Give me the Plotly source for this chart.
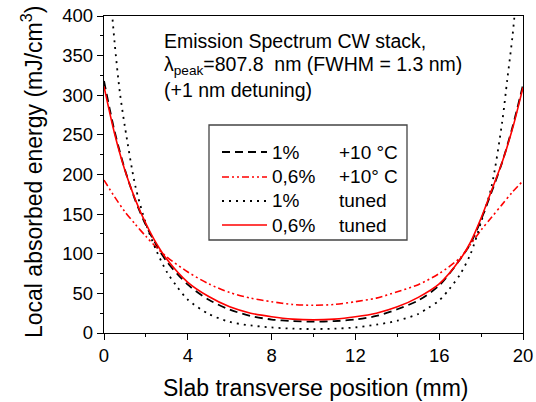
import plotly.graph_objects as go

# Slab transverse position (mm) and local absorbed energy (mJ/cm^3)
x_dash = [0, 0.5, 1, 1.5, 2, 2.5, 3, 4, 5, 6, 7, 8, 9, 10, 11, 12, 13, 14, 15, 16, 17, 17.5, 18, 18.5, 19, 19.5, 20]
y_dash = [318, 255, 206, 167, 136, 111, 90, 61, 42, 29.5, 21.5, 17, 15, 14.3, 15, 17, 21.5, 30, 41, 60, 93, 113, 143, 178, 215, 260, 313]

x_dashdot = [0, 0.5, 1, 1.5, 2, 2.5, 3, 4, 5, 6, 7, 8, 9, 10, 11, 12, 13, 14, 15, 16, 17, 17.5, 18, 18.5, 19, 19.5, 20]
y_dashdot = [193, 172, 153, 137, 122, 108, 96, 77, 62, 51, 44, 39.5, 36, 35, 36, 39.5, 44, 52, 61, 75, 95, 112, 130, 146, 162, 178, 192]

x_dot = [0, 0.25, 0.5, 0.75, 1, 1.5, 2, 2.5, 3, 3.5, 4, 5, 6, 7, 8, 9, 10, 11, 12, 13, 14, 15, 15.5, 16, 16.5, 17, 17.5, 18, 18.5, 19, 19.25, 19.5, 19.75, 20]
y_dot = [510, 445, 368, 305, 260, 185, 138, 104, 77, 58, 42, 24, 14, 9.5, 7, 5.5, 5, 5.5, 7, 10.5, 15.5, 24, 32, 41, 56, 74, 100, 140, 185, 265, 320, 375, 445, 510]

x_solid = [0, 0.5, 1, 1.5, 2, 2.5, 3, 4, 5, 6, 7, 8, 9, 10, 11, 12, 13, 14, 15, 16, 17, 17.5, 18, 18.5, 19, 19.5, 20]
y_solid = [311, 252, 205, 168, 138, 113, 93, 64, 46, 33, 25, 20.5, 17.5, 16.5, 17.5, 20.5, 25, 33, 45, 62, 93, 115, 145, 180, 215, 258, 310]

legend_pct = ["1%", "0,6%", "1%", "0,6%"]
legend_cond = ["+10 °C", "+10° C", "tuned", "tuned"]

FONT = "Liberation Sans, Arial, sans-serif"
W, H = 536, 402
L, R, T, B = 104, 523, 16, 333

# line styles: (colour, dash, width)
styles = [
    ("black", "8px,5px", 1.8),
    ("red", "7px,3px,2px,3px,2px,3px", 1.6),
    ("black", "2px,5px", 1.8),
    ("red", "solid", 1.6),
]
series = [(x_dash, y_dash), (x_dashdot, y_dashdot), (x_dot, y_dot), (x_solid, y_solid)]

fig = go.Figure()
for (xs, ys), (col, dash, w) in zip(series, styles):
    fig.add_trace(go.Scatter(
        x=xs, y=ys, mode="lines",
        line=dict(color=col, dash=dash, width=w, shape="spline", smoothing=0.8),
        showlegend=False, hoverinfo="skip",
    ))


def px_to_paper(px, py):
    return (px - L) / (R - L), (B - py) / (B - T)


annotations = []
shapes = []

# text block in the upper part of the plot
text_lines = [
    ("Emission Spectrum CW stack,", 41),
    ("λ<sub>peak</sub>=807.8  nm (FWHM = 1.3 nm)", 65),
    ("(+1 nm detuning)", 90),
]
for txt, py in text_lines:
    xp, yp = px_to_paper(162, py)
    annotations.append(dict(
        x=xp, y=yp, xref="paper", yref="paper", xanchor="left", yanchor="middle",
        text=txt, showarrow=False, font=dict(family=FONT, size=19.5, color="black"),
    ))

# legend frame
x0p, y0p = px_to_paper(209, 240)
x1p, y1p = px_to_paper(407, 125)
shapes.append(dict(type="rect", xref="paper", yref="paper", x0=x0p, y0=y0p, x1=x1p, y1=y1p,
                   line=dict(color="#444444", width=1.3), fillcolor="white", layer="above"))

rows_py = [152, 177, 201, 225]
for i, py in enumerate(rows_py):
    col, dash, w = styles[i]
    a, yp = px_to_paper(222, py)
    b, _ = px_to_paper(267, py)
    shapes.append(dict(type="line", xref="paper", yref="paper", x0=a, x1=b, y0=yp, y1=yp,
                       line=dict(color=col, dash=dash, width=w), layer="above"))
    xp1, _ = px_to_paper(270, py)
    xp2, _ = px_to_paper(337, py)
    annotations.append(dict(x=xp1, y=yp, xref="paper", yref="paper", xanchor="left", yanchor="middle",
                            text=legend_pct[i], showarrow=False,
                            font=dict(family=FONT, size=19, color="black")))
    annotations.append(dict(x=xp2, y=yp, xref="paper", yref="paper", xanchor="left", yanchor="middle",
                            text=legend_cond[i], showarrow=False,
                            font=dict(family=FONT, size=19, color="black")))

# axis titles
xt, yt = px_to_paper((L + R) / 2 + 2, 388)
annotations.append(dict(x=xt, y=yt, xref="paper", yref="paper", xanchor="center", yanchor="middle",
                        text="Slab transverse position (mm)", showarrow=False,
                        font=dict(family=FONT, size=23, color="black")))
xt, yt = px_to_paper(32, 172)
annotations.append(dict(x=xt, y=yt, xref="paper", yref="paper", xanchor="center", yanchor="middle",
                        text="Local absorbed energy (mJ/cm<sup>3</sup>)", showarrow=False, textangle=-90,
                        font=dict(family=FONT, size=23, color="black")))

axis_common = dict(
    showline=True, linecolor="black", linewidth=1.3, mirror=True,
    ticks="outside", ticklen=6, tickwidth=1.2, tickcolor="black",
    showgrid=False, zeroline=False, automargin=False,
    tickfont=dict(family=FONT, size=18.5, color="black"),
)

fig.update_layout(
    width=W, height=H,
    margin=dict(l=L, r=W - R, t=T, b=H - B),
    paper_bgcolor="white", plot_bgcolor="white",
    xaxis=dict(range=[0, 20], tick0=0, dtick=4,
               minor=dict(dtick=2, ticks="outside", ticklen=3, tickcolor="black", tickwidth=1.2),
               **axis_common),
    yaxis=dict(range=[0, 400], tick0=0, dtick=50,
               minor=dict(dtick=25, ticks="outside", ticklen=3, tickcolor="black", tickwidth=1.2),
               **axis_common),
    annotations=annotations,
    shapes=shapes,
)

fig.write_html("out.html")
